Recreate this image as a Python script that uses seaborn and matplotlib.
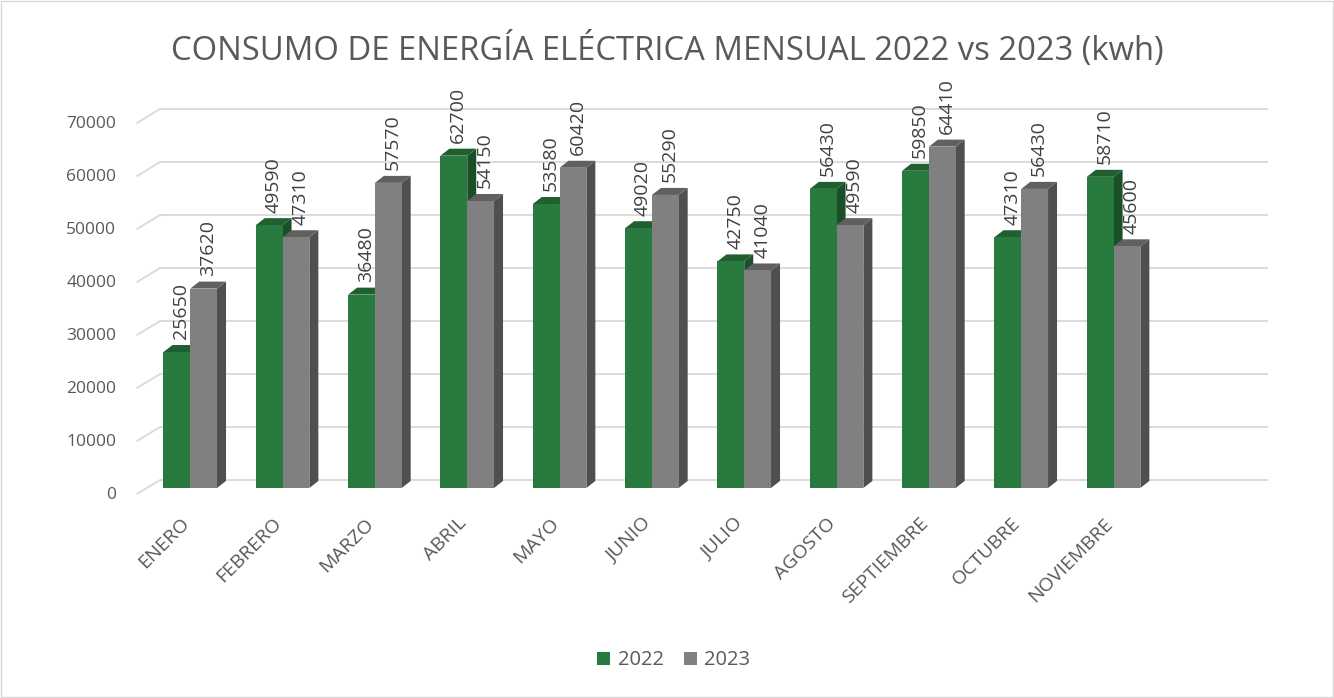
import matplotlib
matplotlib.use("Agg")
import matplotlib.pyplot as plt
import matplotlib.transforms as mtransforms
from matplotlib.patches import Polygon, Rectangle
from matplotlib.lines import Line2D
import numpy as np
import pandas as pd
import seaborn as sns

# datos
meses = ["ENERO", "FEBRERO", "MARZO", "ABRIL", "MAYO", "JUNIO", "JULIO",
         "AGOSTO", "SEPTIEMBRE", "OCTUBRE", "NOVIEMBRE"]
consumo_2022 = [25650, 49590, 36480, 62700, 53580, 49020, 42750, 56430, 59850, 47310, 58710]
consumo_2023 = [37620, 47310, 57570, 54150, 60420, 55290, 41040, 49590, 64410, 56430, 45600]
anios = ["2022", "2023"]
y_ticks = [0, 10000, 20000, 30000, 40000, 50000, 60000, 70000]

df = pd.DataFrame({
    "Mes": meses * 2,
    "Anio": ["2022"] * len(meses) + ["2023"] * len(meses),
    "Consumo": consumo_2022 + consumo_2023,
})

front = {"2022": "#287A3E", "2023": "#808080"}
side = {"2022": "#1A4F28", "2023": "#4F4F4F"}
top = {"2022": "#1F5F30", "2023": "#606060"}
txt = "#595959"

sns.set_theme(style="white")
plt.rcParams["font.family"] = ["Open Sans", "DejaVu Sans"]

fig = plt.figure(figsize=(13.34, 6.98), dpi=100)
ax = fig.add_axes([0.108, 0.3009, 0.8306, 0.5315])

sns.barplot(data=df, x="Mes", y="Consumo", hue="Anio", order=meses, hue_order=anios,
            palette=front, saturation=1, width=0.58, gap=0, linewidth=0,
            legend=False, ax=ax)
ax.set_xlim(-0.5, 11.5)
ax.set_ylim(0, 70000)

# pixel -> data conversion for the fake 3D depth
W = 0.8306 * 1334
H = 0.5315 * 698
px_x = W / 12.0
px_y = H / 70000.0
dx = 9 / px_x
dy = 7 / px_y

for i, cont in enumerate(ax.containers):
    anio = anios[i]
    z = 3 + i * 2
    for rect in cont.patches:
        rect.set_zorder(z + 1)
        x0 = rect.get_x()
        x1 = x0 + rect.get_width()
        h = rect.get_height()
        ax.add_patch(Polygon([(x1, 0), (x1 + dx, dy), (x1 + dx, h + dy), (x1, h)],
                             closed=True, facecolor=side[anio], edgecolor="none",
                             zorder=z, clip_on=False))
        ax.add_patch(Polygon([(x0, h), (x0 + dx, h + dy), (x1 + dx, h + dy), (x1, h)],
                             closed=True, facecolor=top[anio], edgecolor="none",
                             zorder=z, clip_on=False))
        ax.annotate(f"{int(h)}", xy=((x0 + x1) / 2 + dx / 2, h + dy), xytext=(0, 4),
                    textcoords="offset points", rotation=90, ha="center", va="bottom",
                    fontsize=14, color="#404040", zorder=10, annotation_clip=False)

# back wall gridlines and side wall diagonals
back = mtransforms.offset_copy(ax.transData, fig=fig, x=16, y=8, units="dots")
ax.hlines(y_ticks, -0.5, 11.5, colors="#D9D9D9", linewidth=1.3,
          transform=back, zorder=1, clip_on=False)
for t in y_ticks:
    bx, by = ax.transData.transform((-0.5, t))
    fig.add_artist(Line2D([bx - 7, bx + 16], [by - 6, by + 8], transform=None,
                          color="#D9D9D9", linewidth=1.3, zorder=1))

for s in ax.spines.values():
    s.set_visible(False)
ax.grid(False)
ax.set_xlabel("")
ax.set_ylabel("")
ax.set_yticks(y_ticks)
ax.set_yticklabels([str(t) for t in y_ticks])
ax.tick_params(axis="y", length=0, pad=20, labelsize=12.5, labelcolor=txt)
ax.tick_params(axis="x", length=0, pad=19, labelsize=14, labelcolor=txt)
for lab in ax.get_yticklabels():
    lab.set_transform(lab.get_transform() +
                      mtransforms.ScaledTranslation(0, -5 / 100, fig.dpi_scale_trans))
for lab in ax.get_xticklabels():
    lab.set_rotation(45)
    lab.set_ha("right")
    lab.set_va("top")
    lab.set_rotation_mode("anchor")
    lab.set_transform(lab.get_transform() +
                      mtransforms.ScaledTranslation(-10 / 100, 0, fig.dpi_scale_trans))

fig.suptitle("CONSUMO DE ENERGÍA ELÉCTRICA MENSUAL 2022 vs 2023 (kwh)",
             x=0.5, y=0.928, va="center", fontsize=23.6, color=txt)

handles = [Rectangle((0, 0), 1, 1, facecolor=front[a], edgecolor="none") for a in anios]
fig.legend(handles, anios, loc="center", bbox_to_anchor=(0.505, 0.054), ncol=2,
           frameon=False, fontsize=14.5, labelcolor=txt, handlelength=0.65,
           handleheight=0.65, handletextpad=0.35, columnspacing=1.0)

fig.add_artist(Rectangle((0.001, 0.001), 0.998, 0.997, transform=fig.transFigure,
                         fill=False, edgecolor="#D9D9D9", linewidth=1))

fig.savefig("out.png", dpi=100, facecolor="white")
